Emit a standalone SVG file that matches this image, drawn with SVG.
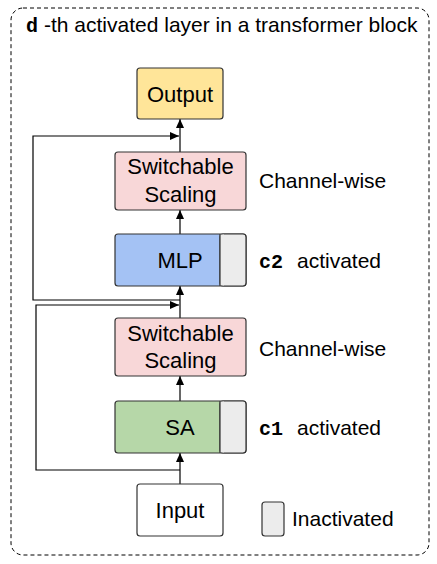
<svg xmlns="http://www.w3.org/2000/svg" width="437" height="564" viewBox="0 0 437 564">
<defs>
<marker id="arr" markerUnits="userSpaceOnUse" markerWidth="9" markerHeight="8" refX="9" refY="4" orient="auto">
<path d="M0,0 L9,4 L0,8 z" fill="#000"/>
</marker>
</defs>
<style>
.t{font-family:"Liberation Sans",Arial,sans-serif;font-size:21px;fill:#000}
.b{font-family:"Liberation Sans",Arial,sans-serif;font-size:22px;fill:#000;text-anchor:middle}
.m{font-family:"Liberation Mono","Courier New",monospace;font-size:20px;font-weight:bold;fill:#000}
.box{stroke:#333;stroke-width:1.2}
.c{fill:none;stroke:#000;stroke-width:1.2}
</style>
<rect x="11" y="8" width="418" height="547" rx="12" fill="#fff" stroke="#000" stroke-width="1" stroke-dasharray="4,3"/>
<g id="title">
<text class="m" x="26" y="32">d</text>
<text class="t" x="44" y="32">-th activated layer in a transformer block</text>
</g>
<g id="connectors">
<line class="c" x1="180" y1="484" x2="180" y2="453" marker-end="url(#arr)"/>
<polyline class="c" points="180,470 36,470 36,305 179,305" marker-end="url(#arr)"/>
<line class="c" x1="180" y1="401" x2="180" y2="376" marker-end="url(#arr)"/>
<line class="c" x1="180" y1="318" x2="180" y2="286" marker-end="url(#arr)"/>
<polyline class="c" points="180,300 33,300 33,136 179,136" marker-end="url(#arr)"/>
<line class="c" x1="180" y1="234" x2="180" y2="210" marker-end="url(#arr)"/>
<line class="c" x1="180" y1="152" x2="180" y2="119" marker-end="url(#arr)"/>
</g>
<g id="output">
<rect class="box" x="137" y="68" width="86" height="51" rx="3" fill="#ffe599"/>
<text class="b" x="180" y="102">Output</text>
</g>
<g id="scaling2">
<rect class="box" x="115" y="152" width="131" height="58" rx="3" fill="#f8d7d8"/>
<text class="b" x="180.5" y="174">Switchable</text>
<text class="b" x="180.5" y="202">Scaling</text>
</g>
<text class="t" x="259" y="188">Channel-wise</text>
<g id="mlp">
<rect class="box" x="115" y="234" width="131" height="52" rx="3" fill="#a4c2f4"/>
<rect class="box" x="220" y="234" width="26" height="52" rx="3" fill="#ececec"/>
<rect x="220" y="234.6" width="4" height="50.8" fill="#ececec"/>
<line x1="220" y1="234" x2="220" y2="286" stroke="#333" stroke-width="1.2"/>
<text class="b" x="180" y="268">MLP</text>
</g>
<g id="c2label">
<text class="m" x="259" y="268">c2</text>
<text class="t" x="297" y="268">activated</text>
</g>
<g id="scaling1">
<rect class="box" x="115" y="318" width="131" height="58" rx="3" fill="#f8d7d8"/>
<text class="b" x="180.5" y="341">Switchable</text>
<text class="b" x="180.5" y="368">Scaling</text>
</g>
<text class="t" x="259" y="356">Channel-wise</text>
<g id="sa">
<rect class="box" x="115" y="401" width="131" height="52" rx="3" fill="#b6d7a8"/>
<rect class="box" x="220" y="401" width="26" height="52" rx="3" fill="#ececec"/>
<rect x="220" y="401.6" width="4" height="50.8" fill="#ececec"/>
<line x1="220" y1="401" x2="220" y2="453" stroke="#333" stroke-width="1.2"/>
<text class="b" x="180" y="435">SA</text>
</g>
<g id="c1label">
<text class="m" x="259" y="435">c1</text>
<text class="t" x="297" y="435">activated</text>
</g>
<g id="input">
<rect class="box" x="137" y="484" width="86" height="52" rx="3" fill="#fff"/>
<text class="b" x="180" y="518">Input</text>
</g>
<g id="legend">
<rect class="box" x="262" y="502" width="22" height="34" rx="3" fill="#ececec"/>
<text class="t" x="292" y="526">Inactivated</text>
</g>
</svg>
